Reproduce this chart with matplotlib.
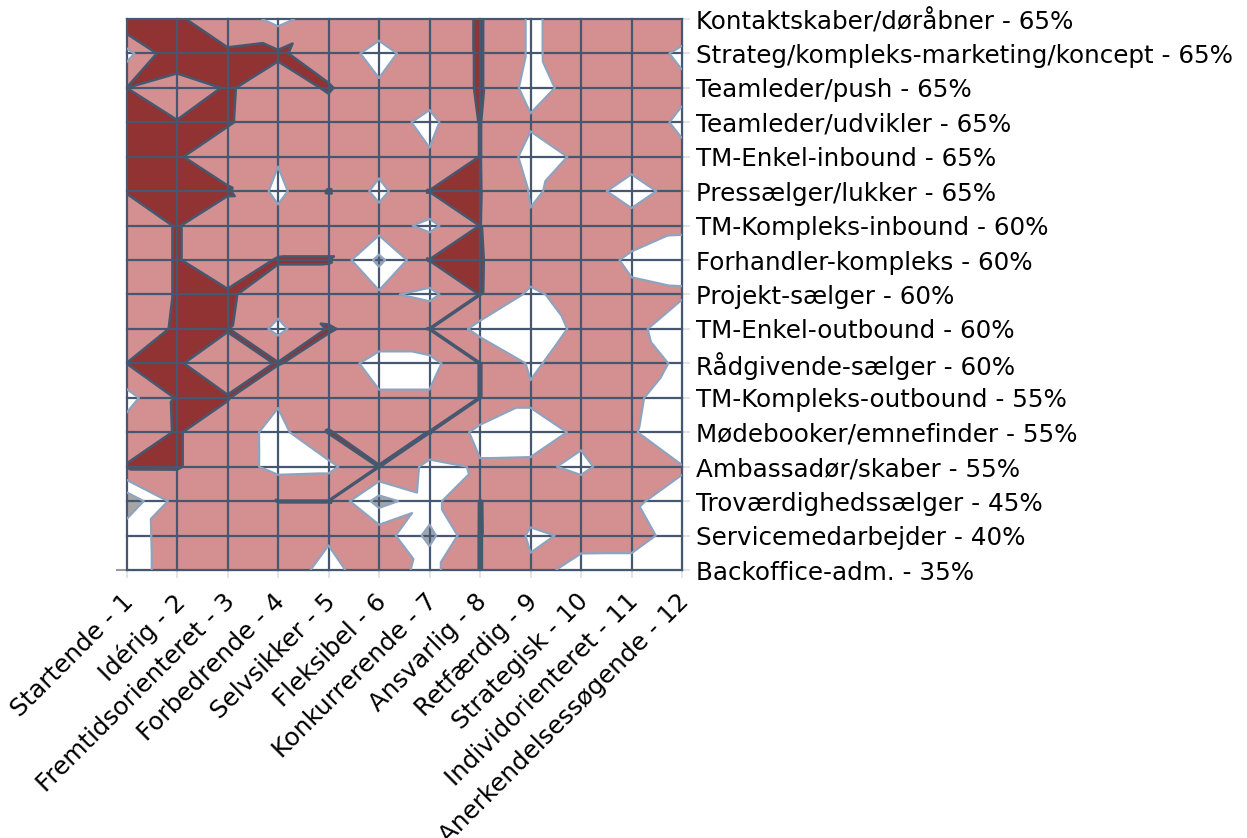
import numpy as np
import matplotlib
matplotlib.use('Agg')
import matplotlib.pyplot as plt
from matplotlib.path import Path
from matplotlib.transforms import ScaledTranslation
from matplotlib.tri import Triangulation

x_labels = ['Startende - 1', 'Idérig - 2', 'Fremtidsorienteret - 3', 'Forbedrende - 4',
            'Selvsikker - 5', 'Fleksibel - 6', 'Konkurrerende - 7', 'Ansvarlig - 8',
            'Retfærdig - 9', 'Strategisk - 10', 'Individorienteret - 11', 'Anerkendelsessøgende - 12']
y_labels = ['Kontaktskaber/døråbner - 65%', 'Strateg/kompleks-marketing/koncept - 65%',
            'Teamleder/push - 65%', 'Teamleder/udvikler - 65%', 'TM-Enkel-inbound - 65%',
            'Pressælger/lukker - 65%', 'TM-Kompleks-inbound - 60%', 'Forhandler-kompleks - 60%',
            'Projekt-sælger - 60%', 'TM-Enkel-outbound - 60%', 'Rådgivende-sælger - 60%',
            'TM-Kompleks-outbound - 55%', 'Mødebooker/emnefinder - 55%', 'Ambassadør/skaber - 55%',
            'Troværdighedssælger - 45%', 'Servicemedarbejder - 40%', 'Backoffice-adm. - 35%']

# one row per job profile, estimated from the contour crossings
r00 = [80, 61.5, 53, 33.8, 52.6, 48.5, 50, 61.5, 37.7, 47.3, 47, 47]
r01 = [33, 78, 61.5, 63, 48.5, 35, 49, 61.5, 37.7, 47.3, 46, 38]
r02 = [60.05, 47, 62, 50, 62, 42, 49, 61.5, 33.5, 47, 46, 42.2]
r03 = [70, 61, 61.5, 50, 50, 49, 35, 60.4, 42.3, 44, 46, 38]
r04 = [70, 61.5, 50, 42, 50, 48.5, 41.8, 60.4, 33.5, 42.4, 43, 42.3]
r05 = [60.75, 70, 62, 35, 60.7, 35, 60.5, 60.6, 39, 43, 37.1, 43]
r06 = [50, 61, 48, 48, 50, 50, 35, 60.3, 41.1, 45, 43, 40.4]
r07 = [50, 61, 50, 61.2, 61.2, 14.5, 60.5, 60.6, 52.7, 43.2, 39, 38.9]
r08 = [50, 61, 62, 51.7, 50, 43.5, 35, 60.5, 36.2, 48.9, 41, 40.35]
r09 = [50, 62, 61, 35, 61.5, 52, 60.5, 33.6, 33.6, 42.4, 40.94, 38]
r10 = [60.1, 61.6, 50, 61, 50, 33.6, 33.6, 60.5, 37.8, 47, 44, 38.5]
r11 = [33, 61.5, 61, 42.7, 50, 42, 42, 60.5, 42.3, 45, 42, 34]
r12 = [49, 61.2, 50.6, 33.6, 61, 50, 60.6, 34.3, 34.3, 42.2, 41.1, 32]
r13 = [61.1, 61.2, 50.5, 33.7, 35, 60.6, 34.6, 41.9, 42.2, 38, 46.3, 40.4]
r14 = [5.8, 47.5, 50, 60.4, 60.4, 12, 33.2, 60.6, 47.3, 46.3, 40.5, 38.7]
r15 = [33, 47.3, 50, 50, 42, 52.8, 14, 60.7, 37.7, 42.5, 42.4, 37.4]
r16 = [33, 47, 50, 49, 35, 50, 34, 60.7, 42.3, 37.7, 37.7, 37.5]

levels = [-100, 20, 40, 60, 200]
fill_colors = ['#a6a6a6', '#ffffff', '#d49090', '#913333']
light = '#8fa3bf'
dark = '#465870'

z = np.array([r00, r01, r02, r03, r04, r05, r06, r07, r08, r09, r10, r11, r12, r13, r14, r15, r16])
nrow, ncol = z.shape
cls = np.digitize(z, levels[1:-1])


def pick(a, b):
    # lower score wins: highest band first, then same band, then closest values
    ca, cb = cls[a], cls[b]
    return (-min(ca, cb), abs(ca - cb), abs(z[a] - z[b]))


# pick the diagonal of every cell so saddles stay joined like in the original
triangles = []
for r in range(nrow - 1):
    for c in range(ncol - 1):
        tl, tr, bl, br = (r, c), (r, c + 1), (r + 1, c), (r + 1, c + 1)
        i = lambda p: p[0] * ncol + p[1]
        if pick(tl, br) <= pick(tr, bl):
            triangles += [[i(tl), i(tr), i(br)], [i(tl), i(br), i(bl)]]
        else:
            triangles += [[i(tl), i(tr), i(bl)], [i(tr), i(br), i(bl)]]

xx, yy = np.meshgrid(np.arange(1, ncol + 1), np.arange(nrow))
tri = Triangulation(xx.ravel(), yy.ravel(), triangles)

fig = plt.figure(figsize=(12.47, 8.38), dpi=100)
ax = fig.add_axes([126.5 / 1247, 1 - 570 / 838, 555.5 / 1247, 551 / 838])

cs = ax.tricontourf(tri, z.ravel(), levels=levels, colors=fill_colors, zorder=1)
ax.tricontour(tri, z.ravel(), levels=[20, 40], colors=light, linewidths=1.6, zorder=3)
ax.tricontour(tri, z.ravel(), levels=[60], colors=dark, linewidths=1.8, zorder=4)

# grid is dark over the coloured bands and pale over the white ones
coloured = Path.make_compound_path(*cs.get_paths()[2:])
for c in range(1, ncol + 1):
    ax.plot([c, c], [0, nrow - 1], color=light, lw=1.4, zorder=2, clip_on=False)
    ln, = ax.plot([c, c], [0, nrow - 1], color=dark, lw=1.6, zorder=2.5, clip_on=False)
    ln.set_clip_path(coloured, transform=ax.transData)
for r in range(nrow):
    ax.plot([1, ncol], [r, r], color=light, lw=1.4, zorder=2, clip_on=False)
    ln, = ax.plot([1, ncol], [r, r], color=dark, lw=1.6, zorder=2.5, clip_on=False)
    ln.set_clip_path(coloured, transform=ax.transData)

ax.set_xlim(1, ncol)
ax.set_ylim(nrow - 1, 0)
ax.set_xticks(range(1, ncol + 1))
ax.set_xticklabels(x_labels, rotation=45, ha='right', rotation_mode='anchor', fontsize=17.7, color='black')
ax.yaxis.tick_right()
ax.set_yticks(range(nrow))
ax.set_yticklabels(y_labels, fontsize=17.7, color='black')
ax.tick_params(axis='both', length=6, width=1.2, color='#dfdfdf', pad=4)
ax.tick_params(axis='x', pad=8)
shift = ScaledTranslation(-5 / 100, 0, fig.dpi_scale_trans)
for t in ax.get_xticklabels():
    t.set_transform(t.get_transform() + shift)
for s in ax.spines.values():
    s.set_color('#d5d5d5')
    s.set_linewidth(1)
    s.set_zorder(0)

# short stub of the zero line left of the plot
ax.plot([-0.017, 0], [0, 0], transform=ax.transAxes, color='#9a9a9a', lw=1.5, clip_on=False)

fig.savefig('out.png', dpi=100)
